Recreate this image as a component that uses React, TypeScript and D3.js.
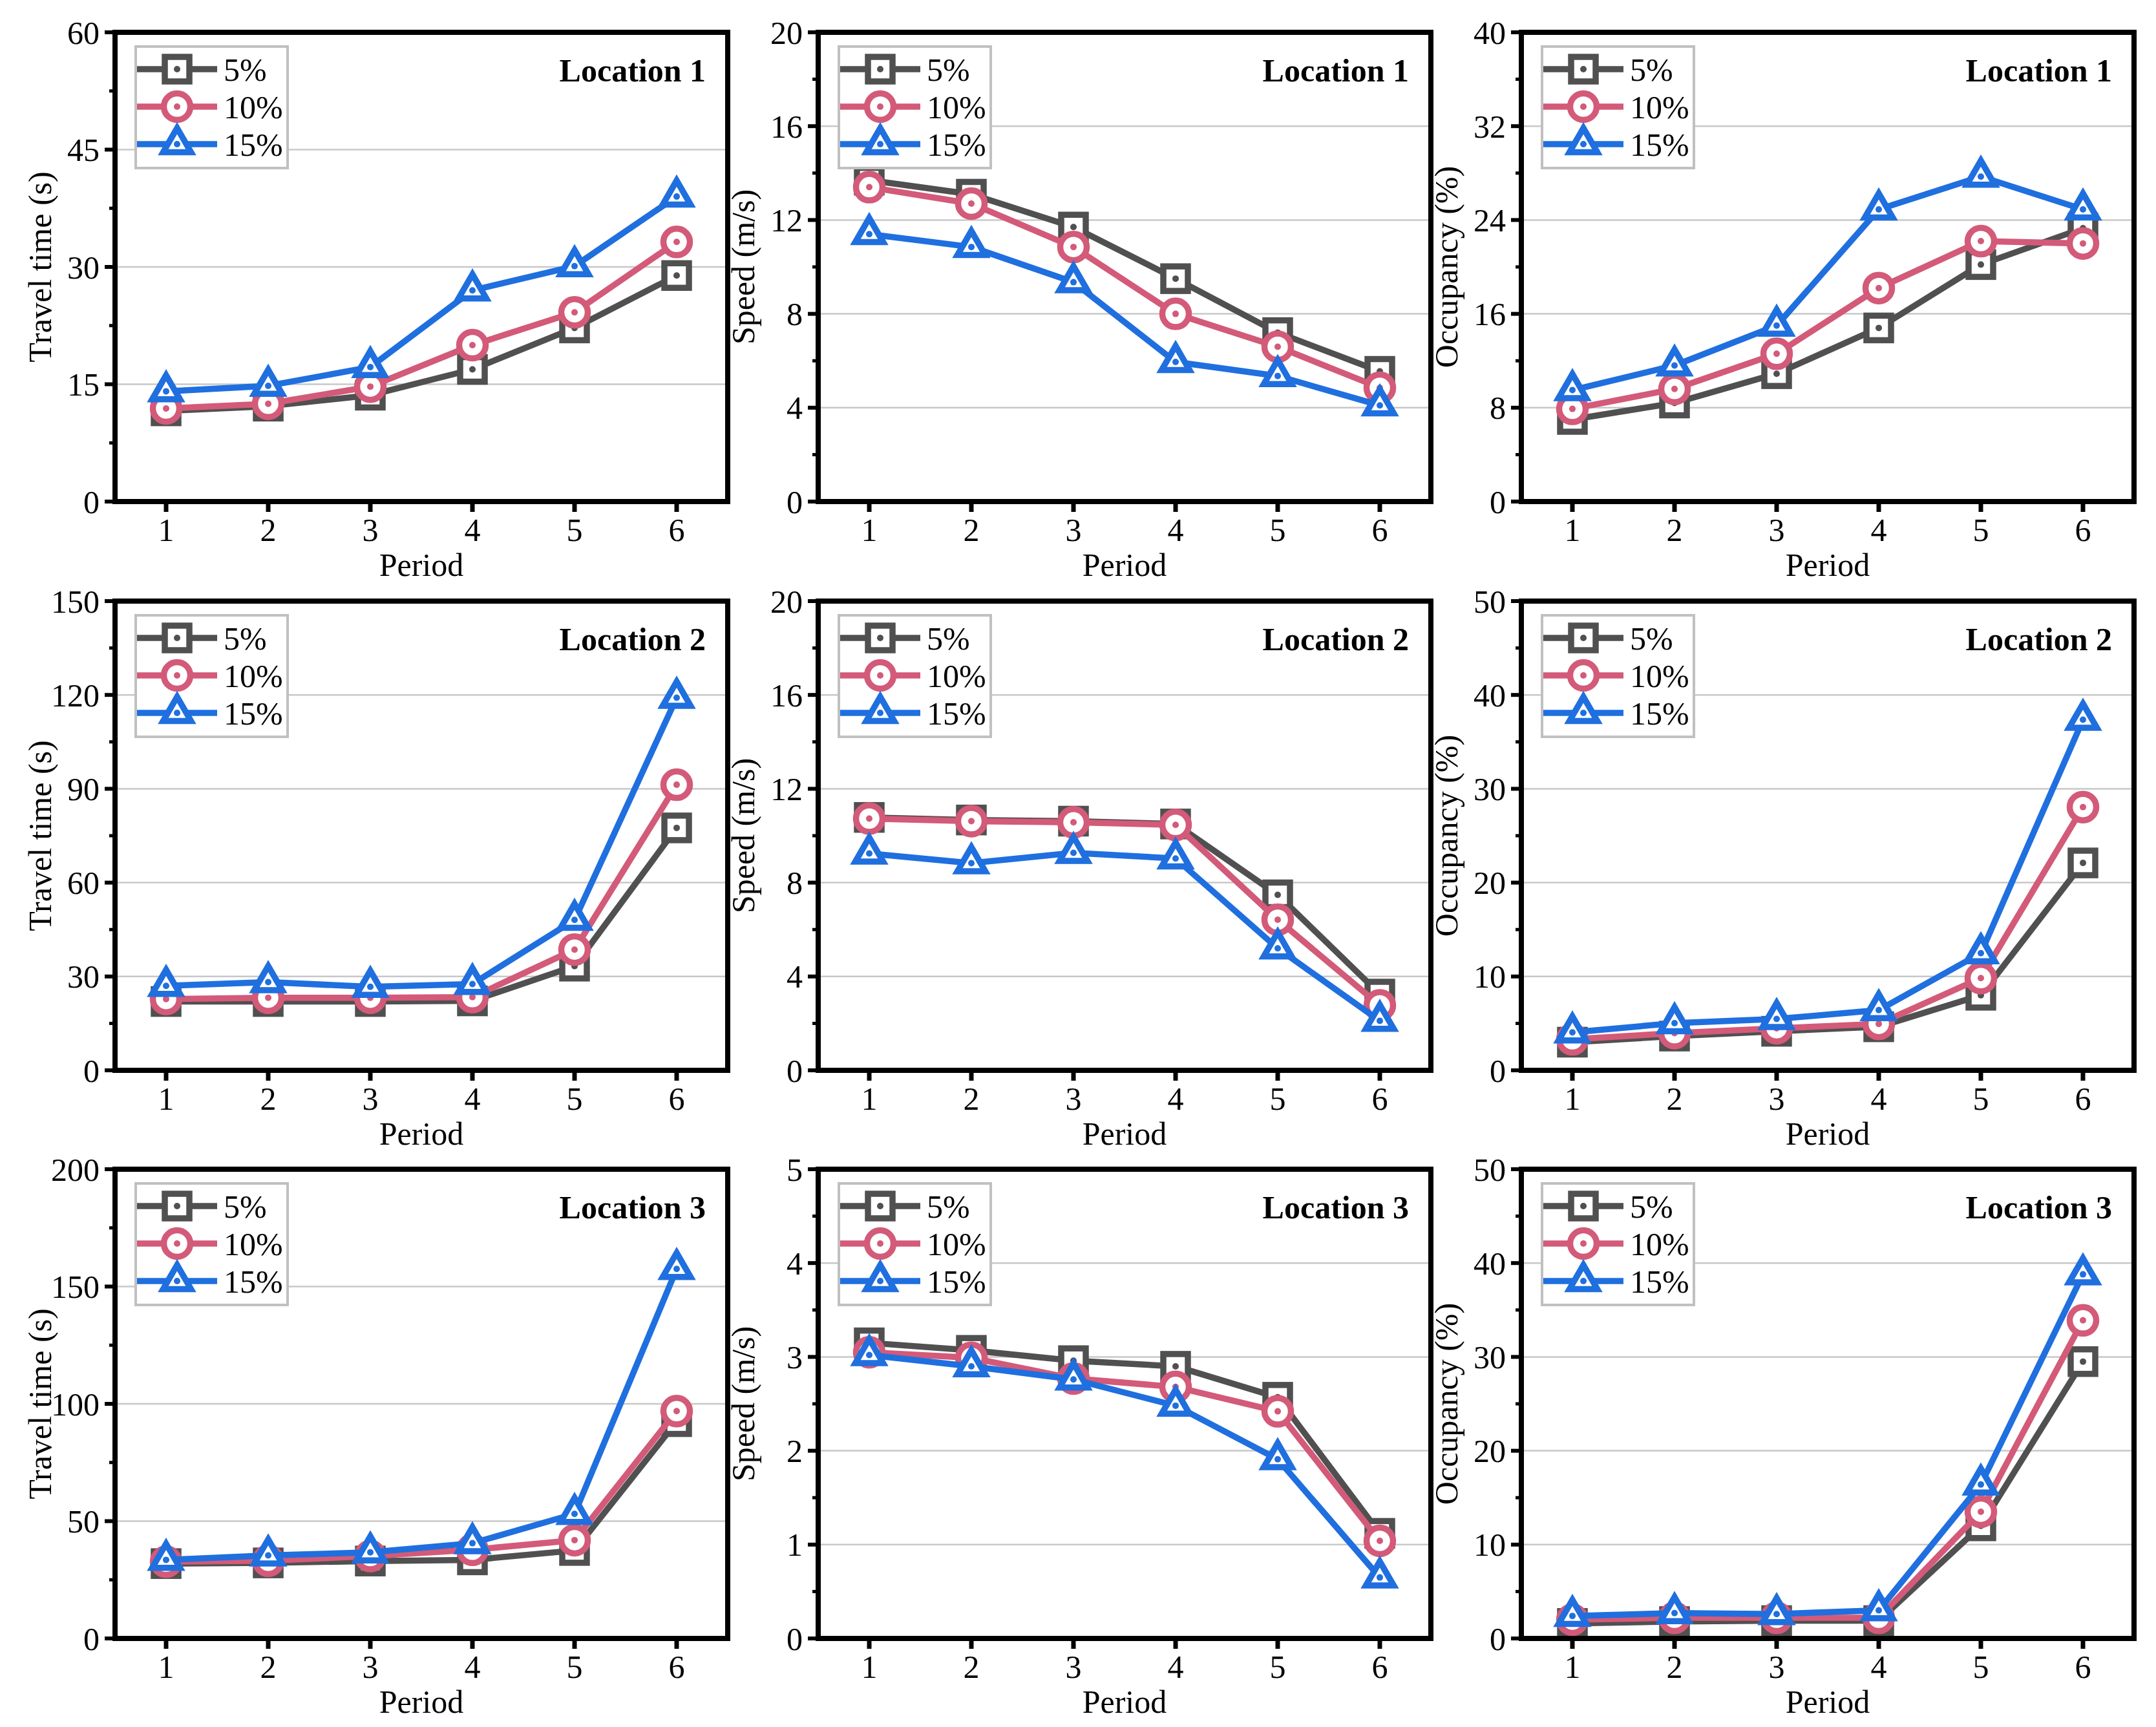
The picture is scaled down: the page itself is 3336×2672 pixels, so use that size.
import React from 'react';
import * as d3 from 'd3';

// ---------- data ----------
const periods = [1, 2, 3, 4, 5, 6];
const seriesNames = ['5%', '10%', '15%'];
const seriesColors = ['#505050', '#d35a78', '#1f6fdf'];
const locationNames = ['Location 1', 'Location 2', 'Location 3'];
const metricLabels = ['Travel time (s)', 'Speed (m/s)', 'Occupancy (%)'];

// y-axis settings per row (location) and column (metric)
const yMaxL1 = [60, 20, 40];
const yMaxL2 = [150, 20, 50];
const yMaxL3 = [200, 5, 50];
const yStepL1 = [15, 4, 8];
const yStepL2 = [30, 4, 10];
const yStepL3 = [50, 1, 10];

// Location 1
const travelL1_5 = [11.6, 12.2, 13.6, 16.9, 22.2, 28.9];
const travelL1_10 = [11.9, 12.5, 14.7, 20.0, 24.2, 33.2];
const travelL1_15 = [14.1, 14.8, 17.2, 27.0, 30.1, 39.0];
const speedL1_5 = [13.7, 13.1, 11.7, 9.5, 7.2, 5.55];
const speedL1_10 = [13.4, 12.7, 10.85, 8.0, 6.6, 4.85];
const speedL1_15 = [11.4, 10.85, 9.35, 5.95, 5.35, 4.1];
const occL1_5 = [7.0, 8.4, 10.9, 14.8, 20.2, 23.3];
const occL1_10 = [7.9, 9.6, 12.6, 18.2, 22.2, 22.0];
const occL1_15 = [9.5, 11.6, 15.0, 24.9, 27.7, 24.9];

// Location 2
const travelL2_5 = [22.0, 22.0, 22.0, 22.2, 33.3, 77.5];
const travelL2_10 = [22.8, 23.2, 23.2, 23.4, 38.6, 91.3];
const travelL2_15 = [27.0, 28.2, 26.7, 27.6, 48.1, 119.1];
const speedL2_5 = [10.78, 10.67, 10.62, 10.5, 7.48, 3.25];
const speedL2_10 = [10.73, 10.62, 10.57, 10.46, 6.42, 2.77];
const speedL2_15 = [9.24, 8.83, 9.27, 9.03, 5.2, 2.11];
const occL2_5 = [3.0, 3.65, 4.16, 4.64, 8.0, 22.1];
const occL2_10 = [3.3, 3.96, 4.48, 4.95, 9.83, 28.05];
const occL2_15 = [4.04, 5.03, 5.47, 6.42, 12.48, 37.36];

// Location 3
const travelL3_5 = [31.9, 32.2, 33.0, 33.5, 37.5, 92.4];
const travelL3_10 = [32.7, 33.1, 35.1, 37.8, 41.9, 96.9];
const travelL3_15 = [33.5, 35.4, 36.7, 40.6, 53.1, 157.5];
const speedL3_5 = [3.15, 3.07, 2.96, 2.9, 2.57, 1.12];
const speedL3_10 = [3.05, 2.99, 2.77, 2.68, 2.42, 1.04];
const speedL3_15 = [3.02, 2.9, 2.76, 2.48, 1.91, 0.65];
const occL3_5 = [1.6, 1.8, 1.9, 1.9, 12.0, 29.5];
const occL3_10 = [2.0, 2.2, 2.2, 2.2, 13.5, 33.9];
const occL3_15 = [2.4, 2.7, 2.6, 3.0, 16.4, 38.8];

const panelData: number[][][][] = [
  [
    [travelL1_5, travelL1_10, travelL1_15],
    [speedL1_5, speedL1_10, speedL1_15],
    [occL1_5, occL1_10, occL1_15],
  ],
  [
    [travelL2_5, travelL2_10, travelL2_15],
    [speedL2_5, speedL2_10, speedL2_15],
    [occL2_5, occL2_10, occL2_15],
  ],
  [
    [travelL3_5, travelL3_10, travelL3_15],
    [speedL3_5, speedL3_10, speedL3_15],
    [occL3_5, occL3_10, occL3_15],
  ],
];
const yMaxes = [yMaxL1, yMaxL2, yMaxL3];
const ySteps = [yStepL1, yStepL2, yStepL3];

// ---------- layout ----------
const W = 3336;
const H = 2672;
const colLefts = [178, 1266, 2354];
const rowTops = [50, 930, 1809];
const PW = 948;
const PH = 726;
const FONT = '"Liberation Serif", "Times New Roman", Times, serif';
const FS = 50;
const txt: React.CSSProperties = { fontFamily: FONT, fontSize: FS };

function Marker({ kind, color, cx, cy }: { kind: number; color: string; cx: number; cy: number }) {
  const sw = 9.5;
  let shape: React.ReactNode;
  if (kind === 0) {
    shape = <rect x={cx - 19} y={cy - 19} width={38} height={38} fill="#fff" stroke={color} strokeWidth={sw} />;
  } else if (kind === 1) {
    shape = <circle cx={cx} cy={cy} r={20.5} fill="#fff" stroke={color} strokeWidth={sw} />;
  } else {
    const s = 43;
    const h = (s * Math.sqrt(3)) / 2;
    const p = `M${cx},${cy - (2 * h) / 3}L${cx + s / 2},${cy + h / 3}L${cx - s / 2},${cy + h / 3}Z`;
    shape = <path d={p} fill="#fff" stroke={color} strokeWidth={sw} strokeLinejoin="miter" />;
  }
  return (
    <g>
      {shape}
      <circle cx={cx} cy={cy} r={5} fill={color} />
    </g>
  );
}

function Panel({ row, col }: { row: number; col: number }) {
  const left = colLefts[col];
  const top = rowTops[row];
  const right = left + PW;
  const bottom = top + PH;
  const yMax = yMaxes[row][col];
  const step = ySteps[row][col];
  const x = d3.scaleLinear().domain([0.5, 6.5]).range([left, right]);
  const y = d3.scaleLinear().domain([0, yMax]).range([bottom, top]);
  const majors = d3.range(0, yMax + step / 1000, step);
  const minors = d3.range(step / 2, yMax, step);
  const series = panelData[row][col];
  const line = d3
    .line<number>()
    .x((_, i) => x(periods[i]))
    .y((v) => y(v));
  const fmt = (v: number) => String(Math.round(v * 100) / 100);

  const legX = left + 32;
  const legY = top + 22;
  const legRows = [top + 57, top + 115, top + 173];

  return (
    <g>
      {/* gridlines */}
      {majors
        .filter((v) => v > 0 && v < yMax)
        .map((v) => (
          <line key={'g' + v} x1={left} x2={right} y1={y(v)} y2={y(v)} stroke="#c8c8c8" strokeWidth={2.5} />
        ))}
      {/* series */}
      {series.map((vals, si) => (
        <g key={'s' + si}>
          <path d={line(vals) || ''} fill="none" stroke={seriesColors[si]} strokeWidth={9.5} strokeLinejoin="round" />
          {vals.map((v, i) => (
            <Marker key={i} kind={si} color={seriesColors[si]} cx={x(periods[i])} cy={y(v)} />
          ))}
        </g>
      ))}
      {/* frame */}
      <rect x={left} y={top} width={PW} height={PH} fill="none" stroke="#000" strokeWidth={8} />
      {/* y ticks */}
      {majors.map((v) => (
        <g key={'yt' + v}>
          <line x1={left - 16} x2={left} y1={y(v)} y2={y(v)} stroke="#000" strokeWidth={6} />
          <text x={left - 24} y={y(v)} dy="0.35em" textAnchor="end" style={txt} fill="#000">
            {fmt(v)}
          </text>
        </g>
      ))}
      {minors.map((v) => (
        <line key={'ym' + v} x1={left - 9} x2={left} y1={y(v)} y2={y(v)} stroke="#000" strokeWidth={5} />
      ))}
      {/* x ticks */}
      {periods.map((p) => (
        <g key={'xt' + p}>
          <line x1={x(p)} x2={x(p)} y1={bottom} y2={bottom + 16} stroke="#000" strokeWidth={7} />
          <text x={x(p)} y={bottom + 61} textAnchor="middle" style={txt} fill="#000">
            {p}
          </text>
        </g>
      ))}
      {/* axis titles */}
      <text x={(left + right) / 2} y={bottom + 115} textAnchor="middle" style={txt} fill="#000">
        Period
      </text>
      <text
        transform={`translate(${left - 99},${(top + bottom) / 2}) rotate(-90)`}
        textAnchor="middle"
        style={txt}
        fill="#000"
      >
        {metricLabels[col]}
      </text>
      {/* location label */}
      <text x={right - 34} y={top + 76} textAnchor="end" style={{ ...txt, fontWeight: 'bold' }} fill="#000">
        {locationNames[row]}
      </text>
      {/* legend */}
      <rect x={legX} y={legY} width={235} height={188} fill="#fff" stroke="#c0c0c0" strokeWidth={4} />
      {seriesNames.map((name, si) => (
        <g key={'l' + si}>
          <line x1={legX + 2} x2={legX + 126} y1={legRows[si]} y2={legRows[si]} stroke={seriesColors[si]} strokeWidth={9.5} />
          <Marker kind={si} color={seriesColors[si]} cx={legX + 64} cy={legRows[si]} />
          <text x={legX + 136} y={legRows[si]} dy="0.35em" style={txt} fill="#000">
            {name}
          </text>
        </g>
      ))}
    </g>
  );
}

export default function App() {
  return (
    <svg
      width={W}
      height={H}
      viewBox={`0 0 ${W} ${H}`}
      style={{ position: 'absolute', left: 0, top: 0, display: 'block', fontFamily: FONT }}
    >
      <rect width={W} height={H} fill="#fff" />
      {[0, 1, 2].map((r) => [0, 1, 2].map((c) => <Panel key={`${r}-${c}`} row={r} col={c} />))}
    </svg>
  );
}
